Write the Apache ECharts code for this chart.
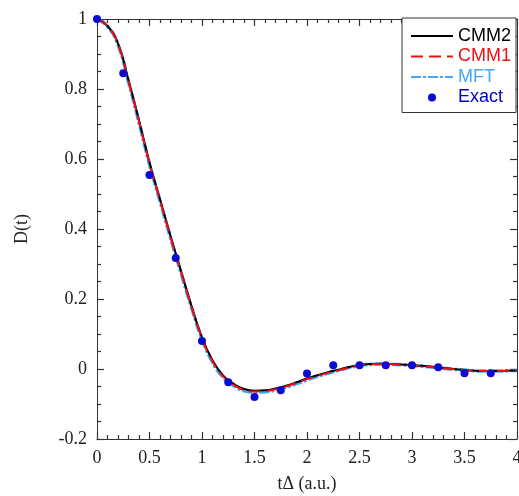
<!DOCTYPE html>
<html>
<head>
<meta charset="utf-8">
<script src="https://cdn.jsdelivr.net/npm/echarts@6/dist/echarts.min.js"></script>
<style>html,body{margin:0;padding:0;background:#fff;}#c{width:519px;height:496px;}</style>
</head>
<body>
<div id="c"></div>
<script>
// Curves sampled every 0.1 in t
var tCurve = [0,0.1,0.2,0.3,0.4,0.5,0.6,0.7,0.8,0.9,1.0,1.1,1.2,1.3,1.4,1.5,1.6,1.7,1.8,1.9,2.0,2.1,2.2,2.3,2.4,2.5,2.6,2.7,2.8,2.9,3.0,3.1,3.2,3.3,3.4,3.5,3.6,3.7,3.8,3.9,4.0];
var cmm2 = [1,0.98,0.93,0.825,0.71,0.59,0.485,0.38,0.28,0.18,0.09,0.025,-0.018,-0.042,-0.057,-0.062,-0.061,-0.056,-0.048,-0.038,-0.027,-0.018,-0.009,-0.002,0.006,0.011,0.014,0.015,0.014,0.013,0.011,0.009,0.006,0.003,0.0,-0.003,-0.005,-0.006,-0.006,-0.005,-0.004];
var cmm1 = [1,0.98,0.928,0.822,0.707,0.587,0.482,0.377,0.277,0.178,0.088,0.022,-0.021,-0.045,-0.06,-0.064,-0.063,-0.058,-0.05,-0.04,-0.029,-0.02,-0.011,-0.004,0.004,0.01,0.013,0.014,0.014,0.012,0.01,0.008,0.005,0.002,-0.001,-0.003,-0.005,-0.006,-0.006,-0.005,-0.004];
var mft  = [1,0.979,0.927,0.82,0.705,0.585,0.48,0.375,0.275,0.176,0.086,0.02,-0.023,-0.047,-0.062,-0.066,-0.065,-0.06,-0.052,-0.042,-0.031,-0.021,-0.012,-0.004,0.004,0.01,0.013,0.014,0.013,0.012,0.01,0.008,0.005,0.002,-0.001,-0.003,-0.005,-0.006,-0.006,-0.005,-0.004];
var tExact = [0,0.25,0.5,0.75,1.0,1.25,1.5,1.75,2.0,2.25,2.5,2.75,3.0,3.25,3.5,3.75];
var exact  = [1.0,0.845,0.554,0.317,0.08,-0.038,-0.08,-0.061,-0.013,0.011,0.011,0.011,0.011,0.005,-0.012,-0.012];
var xTicks = {min:0, max:4, step:0.5};
var yTicks = {min:-0.2, max:1, step:0.2};

function pairs(xs, ys){ return xs.map(function(x,i){ return [x, ys[i]]; }); }

var serif = 'Liberation Serif';
var sans = 'Liberation Sans';
function ax(extra, minorSplit){
  var o = {
    type: 'value',
    splitLine: {show:false},
    axisLine: {show:true, onZero:false, lineStyle:{color:'#333'}},
    axisTick: {show:true, inside:true, length:7, lineStyle:{color:'#333', width:1.2}},
    minorTick: {show:true, splitNumber:minorSplit, length:4, lineStyle:{color:'#333', width:1.2}},
    axisLabel: {fontFamily: serif, fontSize:18, color:'#222', margin:10}
  };
  for (var k in extra){ o[k]=extra[k]; }
  return o;
}
var hiddenLabel = {show:true, fontSize:10, color:'rgba(0,0,0,0)', margin:10};

var chart = echarts.init(document.getElementById('c'));
chart.setOption({
  animation: false,
  backgroundColor: '#fff',
  grid: [
    {left:97, right:2, top:19, bottom:57, outerBoundsMode:'none'},
    {left:97, right:2, top:19, bottom:57, outerBoundsMode:'none'}
  ],
  xAxis: [
    ax({gridIndex:0, min:xTicks.min, max:xTicks.max, interval:xTicks.step,
        name:'t\u0394 (a.u.)', nameLocation:'middle', nameGap:36,
        nameTextStyle:{fontFamily:serif, fontSize:18, color:'#222'}}, 5),
    ax({gridIndex:0, min:xTicks.min, max:xTicks.max, interval:xTicks.step, position:'top',
        axisLabel:hiddenLabel}, 5),
    {gridIndex:1, type:'value', min:xTicks.min, max:xTicks.max, show:false}
  ],
  yAxis: [
    ax({gridIndex:0, min:yTicks.min, max:yTicks.max, interval:yTicks.step,
        name:'D(t)', nameLocation:'middle', nameGap:66,
        nameTextStyle:{fontFamily:serif, fontSize:18, color:'#222'}}, 4),
    ax({gridIndex:1, min:yTicks.min, max:yTicks.max, interval:yTicks.step, position:'right',
        axisLabel:hiddenLabel}, 4)
  ],
  legend: {
    orient:'vertical', right:3, top:18,
    backgroundColor:'#fff', borderColor:'#333', borderWidth:1, borderRadius:0,
    padding:[9,5,6,8], itemGap:2.5, itemWidth:42, itemHeight:8,
    textStyle:{fontFamily:sans, fontSize:18, lineHeight:18},
    data:[
      {name:'CMM2', itemStyle:{opacity:0}, textStyle:{color:'#000'}},
      {name:'CMM1', itemStyle:{opacity:0}, textStyle:{color:'#ee1111'}},
      {name:'MFT', itemStyle:{opacity:0}, textStyle:{color:'#45a8f5'}},
      {name:'Exact', icon:'circle', itemStyle:{opacity:1}, textStyle:{color:'#0000cc'}}
    ]
  },
  series: [
    {name:'MFT', type:'line', xAxisIndex:0, yAxisIndex:0, smooth:true, symbol:'none', data:pairs(tCurve, mft),
     lineStyle:{color:'#45a8f5', width:3.5, type:[10,2,3,2]}, itemStyle:{color:'#45a8f5'}, z:2},
    {name:'CMM2', type:'line', xAxisIndex:0, yAxisIndex:0, smooth:true, symbol:'none', data:pairs(tCurve, cmm2),
     lineStyle:{color:'#000', width:2, type:'solid'}, itemStyle:{color:'#000'}, z:3},
    {name:'CMM1', type:'line', xAxisIndex:0, yAxisIndex:0, smooth:true, symbol:'none', data:pairs(tCurve, cmm1),
     lineStyle:{color:'#ee1111', width:2, type:[12,6]}, itemStyle:{color:'#ee1111'}, z:4},
    {name:'Exact', type:'scatter', xAxisIndex:0, yAxisIndex:0, symbol:'circle', symbolSize:8, data:pairs(tExact, exact),
     itemStyle:{color:'#0a0ad2', opacity:1}, z:5}
  ]
});
</script>
</body>
</html>
